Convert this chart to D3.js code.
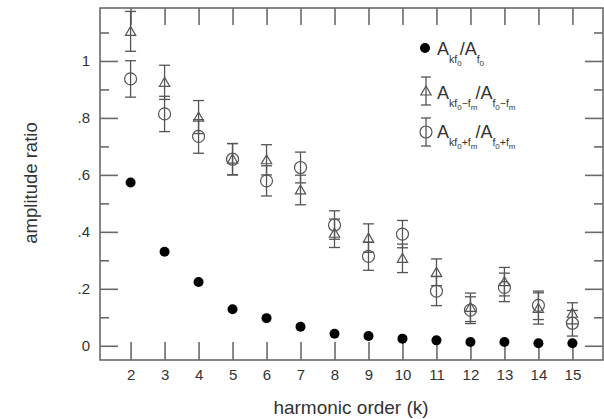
<!DOCTYPE html>
<html>
<head>
    <meta charset="utf-8">
    <title>Amplitude ratio vs harmonic order</title>
    <style>
        body { margin: 0; background: white; }
        svg { font-family: "Liberation Sans", Arial, sans-serif; }
        .frame { fill: none; stroke: #6a6a6a; stroke-width: 1.6px; }
        .axis path { display: none; }
        .axis line { stroke: #6a6a6a; stroke-width: 1.6px; }
        .axis text { fill: #333; font-size: 15px; }
        .err { stroke: #555; stroke-width: 1.3px; fill: none; }
        .open { fill: none; stroke: #555; stroke-width: 1.2px; }
    </style>
</head>
<body>
<svg width="604" height="419"></svg>
<script src="https://d3js.org/d3.v7.min.js"></script>
<script>
    // harmonic order k
    const harmonics = [2, 3, 4, 5, 6, 7, 8, 9, 10, 11, 12, 13, 14, 15];
    // A_kf0 / A_f0
    const ratioCarrier = [0.573, 0.330, 0.224, 0.128, 0.097, 0.067, 0.042, 0.034, 0.025, 0.019, 0.013, 0.013, 0.009, 0.009];
    // A_kf0-fm / A_f0-fm  (triangles)
    const ratioMinus = [1.104, 0.925, 0.803, 0.655, 0.653, 0.547, 0.395, 0.378, 0.307, 0.258, 0.135, 0.225, 0.131, 0.114];
    const errMinus = [0.070, 0.060, 0.058, 0.055, 0.053, 0.052, 0.050, 0.050, 0.050, 0.047, 0.050, 0.050, 0.055, 0.037];
    // A_kf0+fm / A_f0+fm  (open circles)
    const ratioPlus = [0.937, 0.814, 0.735, 0.655, 0.579, 0.626, 0.424, 0.314, 0.392, 0.192, 0.125, 0.205, 0.142, 0.079];
    const errPlus = [0.064, 0.062, 0.059, 0.055, 0.053, 0.054, 0.050, 0.049, 0.048, 0.051, 0.047, 0.050, 0.050, 0.045];

    const yMajor = [0, 0.2, 0.4, 0.6, 0.8, 1];
    const yMinor = [0.1, 0.3, 0.5, 0.7, 0.9, 1.1];

    const svg = d3.select("svg");
    const mLeft = 100, mRight = 603, mTop = 8, mBottom = 360;

    const x = d3.scaleLinear().domain([1.1, 15.9]).range([mLeft, mRight]);
    const y = d3.scaleLinear().domain([-0.05, 1.186]).range([mBottom, mTop]);

    const yFmt = d => d === 0 ? "0" : d === 1 ? "1" : d3.format(".1f")(d).replace("0.", ".");

    // axes, ticks pointing inward
    svg.append("g").attr("class", "axis")
        .attr("transform", `translate(${mLeft},0)`)
        .call(d3.axisLeft(y).tickValues(yMajor).tickSize(-18).tickPadding(10).tickFormat(yFmt));
    svg.append("g").attr("class", "axis")
        .attr("transform", `translate(${mLeft},0)`)
        .call(d3.axisLeft(y).tickValues(yMinor).tickSize(-9).tickFormat(""));
    svg.append("g").attr("class", "axis")
        .attr("transform", `translate(${mRight},0)`)
        .call(d3.axisRight(y).tickValues(yMajor).tickSize(-18).tickFormat(""));
    svg.append("g").attr("class", "axis")
        .attr("transform", `translate(${mRight},0)`)
        .call(d3.axisRight(y).tickValues(yMinor).tickSize(-9).tickFormat(""));
    svg.append("g").attr("class", "axis")
        .attr("transform", `translate(0,${mBottom})`)
        .call(d3.axisBottom(x).tickValues(harmonics).tickSize(-18).tickPadding(9).tickFormat(d3.format("d")));
    svg.append("g").attr("class", "axis")
        .attr("transform", `translate(0,${mTop})`)
        .call(d3.axisTop(x).tickValues(harmonics).tickSize(-17).tickFormat(""));

    svg.append("rect").attr("class", "frame")
        .attr("x", mLeft).attr("y", mTop)
        .attr("width", mRight - mLeft).attr("height", mBottom - mTop);

    // axis titles
    svg.append("text")
        .attr("x", 351).attr("y", 414)
        .attr("text-anchor", "middle")
        .attr("fill", "#333").attr("font-size", 19)
        .text("harmonic order (k)");
    svg.append("text")
        .attr("transform", "translate(37,183) rotate(-90)")
        .attr("text-anchor", "middle")
        .attr("fill", "#333").attr("font-size", 18.5)
        .text("amplitude ratio");

    const tri = d3.symbol().type(d3.symbolTriangle).size(46);

    function errorBars(g, vals, errs, cap) {
        const grp = g.append("g");
        harmonics.forEach((k, i) => {
            const cx = x(k), y1 = y(vals[i] - errs[i]), y2 = y(vals[i] + errs[i]);
            grp.append("line").attr("class", "err").attr("x1", cx).attr("x2", cx).attr("y1", y1).attr("y2", y2);
            grp.append("line").attr("class", "err").attr("x1", cx - cap).attr("x2", cx + cap).attr("y1", y1).attr("y2", y1);
            grp.append("line").attr("class", "err").attr("x1", cx - cap).attr("x2", cx + cap).attr("y1", y2).attr("y2", y2);
        });
    }

    const plot = svg.append("g");
    errorBars(plot, ratioMinus, errMinus, 5.5);
    errorBars(plot, ratioPlus, errPlus, 5.5);

    plot.selectAll(".tri").data(harmonics).join("path")
        .attr("class", "open")
        .attr("d", tri)
        .attr("transform", (k, i) => `translate(${x(k)},${y(ratioMinus[i]) + 1})`);

    plot.selectAll(".oc").data(harmonics).join("circle")
        .attr("class", "open")
        .attr("cx", k => x(k))
        .attr("cy", (k, i) => y(ratioPlus[i]))
        .attr("r", 6);

    plot.selectAll(".fc").data(harmonics).join("circle")
        .attr("cx", k => x(k))
        .attr("cy", (k, i) => y(ratioCarrier[i]))
        .attr("r", 5)
        .attr("fill", "#000");

    // legend
    const lg = svg.append("g");

    // pieces: [text, level] where level 0 = main, 1 = subscript, 2 = sub-subscript
    function legendText(tx, base, pieces) {
        const t = lg.append("text").attr("x", tx).attr("y", base).attr("fill", "#333");
        const size = [18, 10.5, 8];
        const shift = [0, 8, 11];
        pieces.forEach(p => t.append("tspan")
            .attr("y", base + shift[p[1]])
            .attr("dx", p[0] === "/A" ? -2 : 0)
            .attr("font-size", size[p[1]])
            .text(p[0]));
    }

    function legendBar(cx, cy, half) {
        lg.append("line").attr("class", "err").attr("x1", cx).attr("x2", cx).attr("y1", cy - half).attr("y2", cy + half);
        lg.append("line").attr("class", "err").attr("x1", cx - 5).attr("x2", cx + 5).attr("y1", cy - half).attr("y2", cy - half);
        lg.append("line").attr("class", "err").attr("x1", cx - 5).attr("x2", cx + 5).attr("y1", cy + half).attr("y2", cy + half);
    }

    lg.append("circle").attr("cx", 425).attr("cy", 48).attr("r", 5).attr("fill", "#000");
    legendText(437, 55, [["A", 0], ["kf", 1], ["0", 2], ["/A", 0], ["f", 1], ["0", 2]]);

    legendBar(426, 91, 14);
    lg.append("path").attr("class", "open").attr("d", tri)
        .attr("transform", "translate(426,92)");
    legendText(437, 99, [["A", 0], ["kf", 1], ["0", 2], ["−f", 1], ["m", 2], ["/A", 0], ["f", 1], ["0", 2], ["−f", 1], ["m", 2]]);

    legendBar(426, 132, 14);
    lg.append("circle").attr("class", "open").attr("cx", 426).attr("cy", 132).attr("r", 6);
    legendText(437, 138, [["A", 0], ["kf", 1], ["0", 2], ["+f", 1], ["m", 2], ["/A", 0], ["f", 1], ["0", 2], ["+f", 1], ["m", 2]]);
</script>
</body>
</html>
